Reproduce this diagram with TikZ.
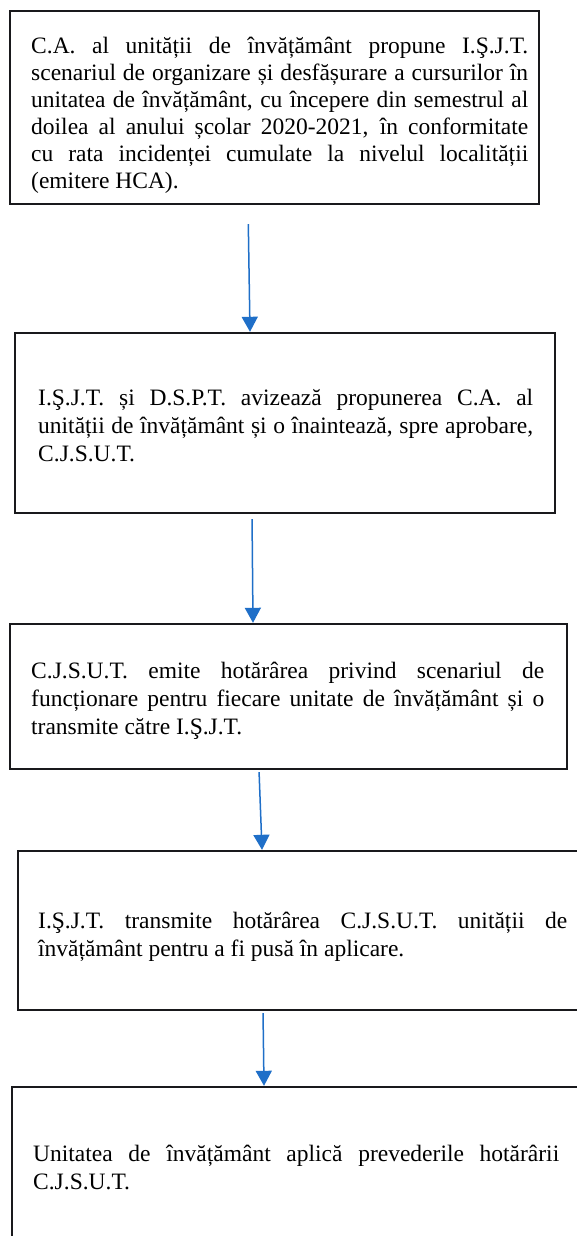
\documentclass[tikz,border=0pt]{standalone}
\usepackage{fontspec}
\setmainfont{Liberation Serif}
\usetikzlibrary{arrows.meta}
\definecolor{arrowblue}{RGB}{31,111,200}
\definecolor{boxline}{RGB}{25,25,28}
\tikzset{
  flowbox/.style={draw=boxline, line width=2.4pt, rectangle, inner sep=0pt},
  flowtext/.style={inner sep=0pt, anchor=base west, align=justify,
    font={\fontsize{23.5}{28}\selectfont\tolerance=10000\hbadness=10000\hyphenpenalty=10000\exhyphenpenalty=10000}},
  flowarrow/.style={draw=arrowblue, line width=1.5pt, -{Triangle[width=16pt,length=15pt]}}
}
\begin{document}
\begin{tikzpicture}[x=1pt,y=-1pt]
\useasboundingbox (0,0) rectangle (576,1236);
\fill[white] (0,0) rectangle (576,1236);
% boxes
\node[flowbox, minimum width=529pt, minimum height=193pt] (b1) at (274.5,107.5) {};
\node[flowbox, minimum width=540pt, minimum height=180pt] (b2) at (285,423) {};
\node[flowbox, minimum width=557pt, minimum height=145pt] (b3) at (288.5,696.5) {};
\node[flowbox, minimum width=582pt, minimum height=159pt] (b4) at (309,930.5) {};
\node[flowbox, minimum width=588pt, minimum height=213pt] (b5) at (306,1193.5) {};
% texts
\node[flowtext, text width=497pt, font={\fontsize{23.5}{27}\selectfont\tolerance=10000\hbadness=10000\hyphenpenalty=10000\exhyphenpenalty=10000}] (t1) at (31,54) {C.A. al unității de învățământ propune I.Ş.J.T.\linebreak
scenariul de organizare și desfășurare a cursurilor în\linebreak
unitatea de învățământ, cu începere din semestrul al\linebreak
doilea al anului școlar 2020-2021, în conformitate\linebreak
cu rata incidenței cumulate la nivelul localității\linebreak
(emitere HCA).};
\node[flowtext, text width=495pt] (t2) at (38,405) {I.Ş.J.T. și D.S.P.T. avizează propunerea C.A. al\linebreak
unității de învățământ și o înaintează, spre aprobare,\linebreak
C.J.S.U.T.};
\node[flowtext, text width=513pt] (t3) at (31,678) {C.J.S.U.T. emite hotărârea privind scenariul de\linebreak
funcționare pentru fiecare unitate de învățământ și o\linebreak
transmite către I.Ş.J.T.};
\node[flowtext, text width=529pt] (t4) at (38,928) {I.Ş.J.T. transmite hotărârea C.J.S.U.T. unității de\linebreak
învățământ pentru a fi pusă în aplicare.};
\node[flowtext, text width=526pt] (t5) at (33,1161) {Unitatea de învățământ aplică prevederile hotărârii\linebreak
C.J.S.U.T.};
% arrows
\draw[flowarrow, shorten <=19pt] ([xshift=-26.5pt]b1.south) -- ([xshift=-35pt]b2.north);
\draw[flowarrow, shorten <=5pt] ([xshift=-33pt]b2.south) -- ([xshift=-35.5pt]b3.north);
\draw[flowarrow, shorten <=2pt] ([xshift=-29.5pt]b3.south) -- ([xshift=-47pt]b4.north);
\draw[flowarrow, shorten <=2pt] ([xshift=-46pt]b4.south) -- ([xshift=-42pt]b5.north);
\end{tikzpicture}
\end{document}
